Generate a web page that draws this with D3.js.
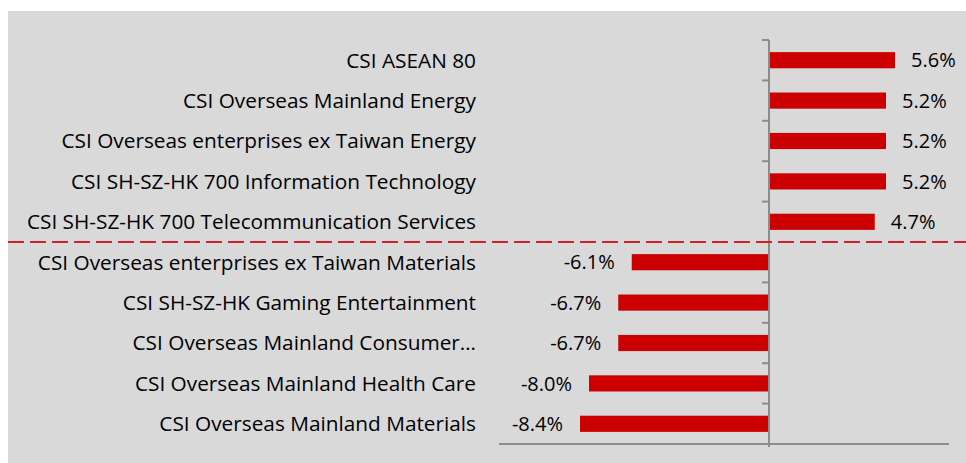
<!DOCTYPE html>
<html>
<head>
<meta charset="utf-8">
<script src="https://cdn.jsdelivr.net/npm/d3@7"></script>
<style>
  body { margin: 0; background: #ffffff; }
  svg { display: block; }
</style>
</head>
<body>
<svg></svg>
<script>
var categories = [
  "CSI ASEAN 80",
  "CSI Overseas Mainland Energy",
  "CSI Overseas enterprises ex Taiwan Energy",
  "CSI SH-SZ-HK 700 Information Technology",
  "CSI SH-SZ-HK 700 Telecommunication Services",
  "CSI Overseas enterprises ex Taiwan Materials",
  "CSI SH-SZ-HK Gaming Entertainment",
  "CSI Overseas Mainland Consumer\u2026",
  "CSI Overseas Mainland Health Care",
  "CSI Overseas Mainland Materials"
];
var returns = [5.6, 5.2, 5.2, 5.2, 4.7, -6.1, -6.7, -6.7, -8.0, -8.4];
var splitAfter = 5; // top gainers above the dashed line, losers below

var svgWidth = 966;
var svgHeight = 463;
var fontFamily = "'Open Sans', 'Noto Sans', sans-serif";

var svg = d3.select("svg")
    .attr("width", svgWidth)
    .attr("height", svgHeight);

// chart area background
svg.append("rect")
    .attr("x", 8)
    .attr("y", 11)
    .attr("width", svgWidth - 8)
    .attr("height", svgHeight - 11)
    .attr("fill", "#d9d9d9");

var xScale = d3.scaleLinear()
    .domain([-12, 8])
    .range([499, 949]);

var yScale = d3.scaleBand()
    .domain(categories)
    .range([40, 444])
    .paddingInner(0.6)
    .paddingOuter(0.3);

var x0 = xScale(0);

// bars
svg.selectAll("rect.bar")
    .data(returns)
    .enter()
    .append("rect")
    .attr("class", "bar")
    .attr("x", function(d) { return Math.min(xScale(d), x0); })
    .attr("y", function(d, i) { return yScale(categories[i]); })
    .attr("width", function(d) { return Math.abs(xScale(d) - x0); })
    .attr("height", yScale.bandwidth())
    .attr("fill", "#cc0000");

// bottom axis line
svg.append("line")
    .attr("x1", xScale.range()[0])
    .attr("x2", xScale.range()[1])
    .attr("y1", 444)
    .attr("y2", 444)
    .attr("stroke", "#8c8c8c")
    .attr("stroke-width", 2);

// vertical category axis at zero
svg.append("line")
    .attr("x1", x0)
    .attr("x2", x0)
    .attr("y1", 40)
    .attr("y2", 447)
    .attr("stroke", "#8c8c8c")
    .attr("stroke-width", 2);

var step = yScale.step();
var tickYs = d3.range(categories.length + 1).map(function(i) { return 40 + i * step; });
svg.selectAll("line.tick")
    .data(tickYs)
    .enter()
    .append("line")
    .attr("class", "tick")
    .attr("x1", x0 - 7)
    .attr("x2", x0)
    .attr("y1", function(d) { return d; })
    .attr("y2", function(d) { return d; })
    .attr("stroke", "#8c8c8c")
    .attr("stroke-width", 2);

// category labels
svg.selectAll("text.cat")
    .data(categories)
    .enter()
    .append("text")
    .attr("class", "cat")
    .text(function(d) { return d; })
    .attr("x", 476)
    .attr("y", function(d) { return yScale(d) + yScale.bandwidth() / 2; })
    .attr("dy", "0.36em")
    .attr("text-anchor", "end")
    .attr("font-family", fontFamily)
    .attr("font-size", "20.8px")
    .attr("fill", "#000000");

// value labels
svg.selectAll("text.val")
    .data(returns)
    .enter()
    .append("text")
    .attr("class", "val")
    .text(function(d) { return d.toFixed(1) + "%"; })
    .attr("x", function(d) { return d >= 0 ? xScale(d) + 16 : xScale(d) - 17; })
    .attr("y", function(d, i) { return yScale(categories[i]) + yScale.bandwidth() / 2; })
    .attr("dy", "0.36em")
    .attr("text-anchor", function(d) { return d >= 0 ? "start" : "end"; })
    .attr("font-family", fontFamily)
    .attr("font-size", "20px")
    .attr("fill", "#000000");

// dashed separator between gainers and losers
var splitY = 40 + splitAfter * step;
svg.append("line")
    .attr("x1", 8)
    .attr("x2", svgWidth)
    .attr("y1", splitY)
    .attr("y2", splitY)
    .attr("stroke", "#d0222a")
    .attr("stroke-width", 2)
    .attr("stroke-dasharray", "16,6");
</script>
</body>
</html>
